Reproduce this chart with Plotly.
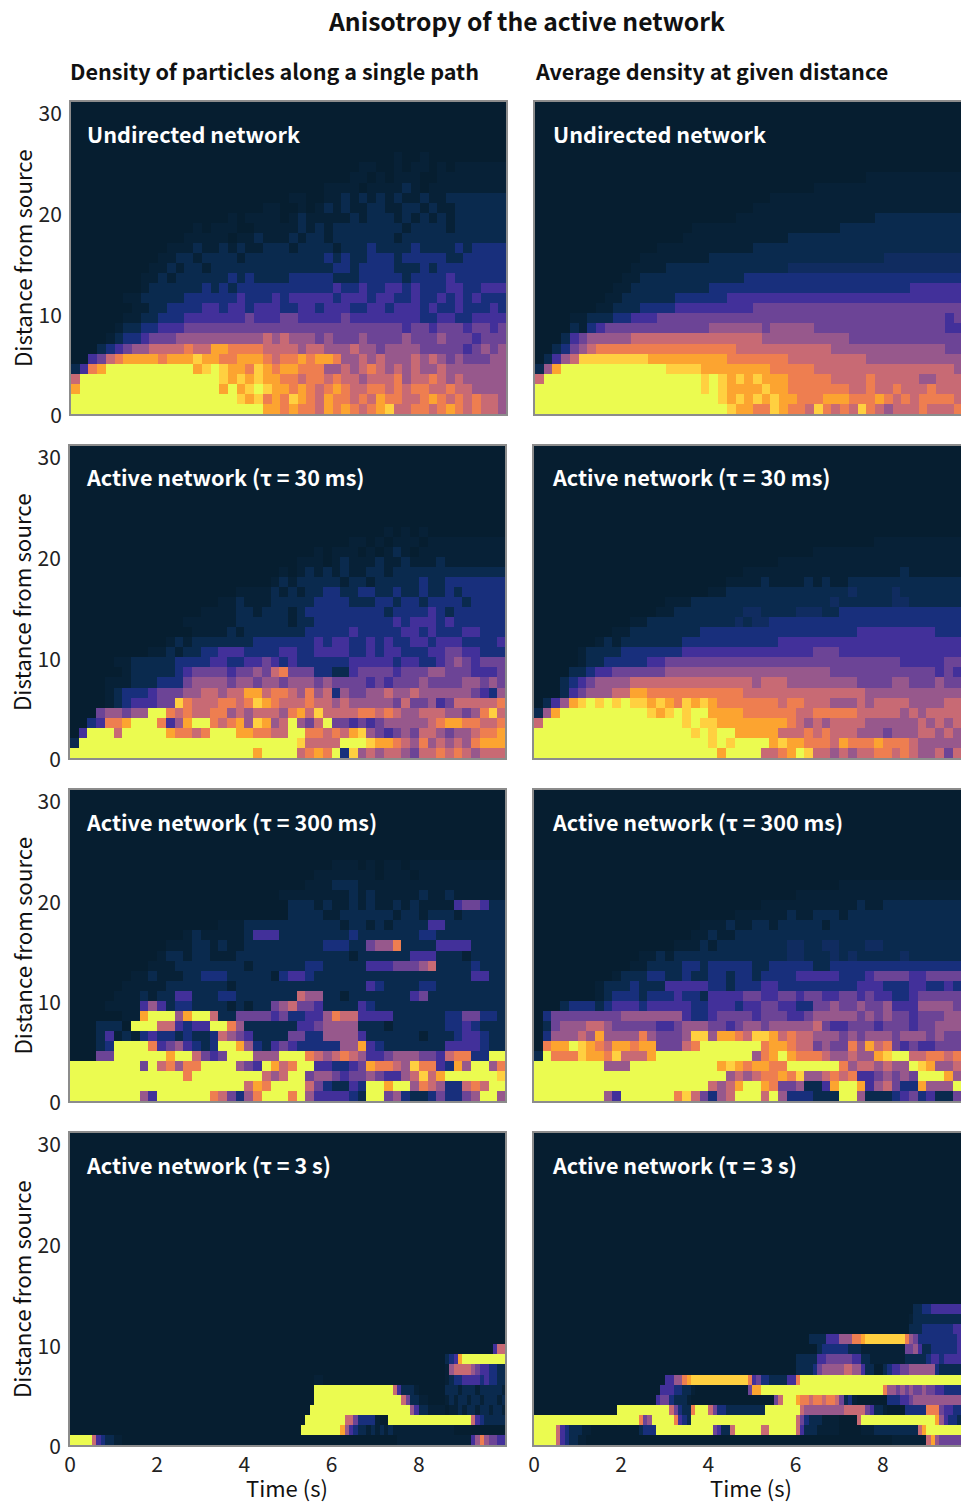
import plotly.graph_objects as go

# Density levels, one string per distance (row 0 = distance 0..1),
# one character per time bin. 0-9 are density levels, a = faint, b = 1.5, g = 8.5.
undirected_path = [
    "999999999999999999999 9 8 8 7 8 7 7 6 8 7 8 7 6 7 8 g 6 6 7 7 6 7 8 7 6 7 6 6 5 6 5 4",
    "999999999999999999 9 g 8 g 7 8 7 g 8 7 6 8 7 7 6 7 6 8 7 7 6 6 7 8 7 6 7 6 7 6 6 5",
    "8 9999999999999999 8 9 8 g 9 g 8 8 7 8 7 6 7 8 7 6 6 7 7 6 7 6 7 7 6 6 7 6 6 5 5",
    "6 9 9 99999999999999 g 8 g 8 g 8 8 7 7 6 7 7 6 7 6 6 5 6 6 6 7 5 6 6 7 6 5 6 5 5",
    "1378 9999999999 8 g 9 g 8 8 7 g 8 7 8 8 7 7 7 5 5 6 5 6 7 6 5 6 5 6 5 5 6 5 5 5 5 5",
    "00346 7 8 8 8 8 7 8 8 8 g 8 8 7 7 8 8 8 7 6 7 7 8 7 8 8 7 5 5 6 5 6 5 5 5 6 5 6 5 4 5 4 4 4 5",
    "0001234 5 5 6 6 6 6 7 6 6 8 8 7 7 7 7 6 6 6 6 5 6 6 5 5 5 6 5 5 4 5 5 5 5 4 4 4 4 4 3 4 5 4 5",
    "0000a1 2 2 3 4 4 4 5 5 5 5 5 5 5 5 5 5 6 5 6 5 5 5 4 5 4 4 4 5 4 4 4 4 5 4 4 4 5 4 4 4 3 4 4",
    "00000a 1 1 2 2 3 3 3 4 4 4 4 4 4 4 4 4 4 4 4 4 4 4 4 4 4 4 4 4 4 4 4 4 3 4 4 3 4 4 4 3 4 4 3 4",
    "000000a a 1 1 2 2 2 3 3 3 3 3 3 3 4 3 3 3 4 4 3 3 3 3 3 4 3 3 3 3 3 3 3 3 2 2 3 3 2 2 3 3",
    "0000000 a a 1 1 2 2 2 2 3 3 2 3 3 2 3 3 3 2 2 3 3 2 3 3 3 2 2 3 3 2 3 3 3 2 3 2 2 3 2 2 2 3 2",
    "000000 a a 1 1 1 1 1 2 2 2 2 2 2 3 2 2 2 3 2 3 3 3 3 3 2 3 3 3 2 3 3 2 2 3 2 2 3 2 3 2 3 2",
    "00000000 a 1 1 1 1 1 1 2 1 2 1 2 2 2 2 2 2 2 2 2 2 2 3 2 2 3 2 2 3 3 2 3 2 2 2 3 3 2 2 3 3",
    "00000000 a a 1 a 1 1 1 1 1 1 2 1 2 1 1 1 1 2 2 2 2 2 1 1 1 2 2 2 2 2 1 2 2 2 2 3 2 2 2 2",
    "000000000 a a 1 a 1 1 a 1 1 1 1 1 1 1 1 1 1 1 1 1 1 2 2 1 2 2 2 2 1 1 1 2 1 2 2 2 2",
    "0000000000 a a 1 1 a 1 1 1 1 a 1 1 1 1 1 1 1 1 1 2 1 2 1 1 2 2 2 1 2 2 2 2 2 1 1 2 2 2",
    "00000000000 a a a 1 a a 1 a 1 a a 1 1 1 a 1 1 1 1 a 1 1 1 2 1 1 1 1 2 1 1 1 1 2 1 2",
    "0000000000000 a a a a a 0 a a 1 a a a 1 a 1 1 a 1 1 1 1 1 1 1 a 1 1 1 1 1 1 1 1 1",
    "00000000000000 a 0 a a a 0 0 a a a a a 1 a 1 a 1 1 1 1 1 1 1 1 a 1 1 1 1 a 1 1",
    "000000000000000000 a 0 a a a a 0 a 1 a a a a a 1 a 1 1 1 a 1 a 1 a 1 a 1 1",
    "0000000000000000000000 a a 0 0 a 0 a 1 a 1 a a 1 1 a a 1 1 a 1 a a 1",
    "0000000000000000000000000 a a 0 0 a a 1 a 1 a 1 a 1 a a 1 a a 1",
    "00000000000000000000000000000 a a a a 0 a a a a 1 a 0 a a a",
    "00000000000000000000000000000000 a a 0 a 0 a a a 0 0 a a",
    "000000000000000000000000000000000 a a 0 0 a 0 a a 0 a 0 a",
    "0000000000000000000000000000000000000 a 0 0 a 0 0",
]

undirected_mean = [
    "999999999999999999999 9 g 8 8 7 7 g 8 7 7 6 g 7 6 7 6 g 7 6 5 6 6 6 7 6 6 6 7 7 7 6 5 5",
    "99999999999999999999 9 g 8 g 8 g 8 g 8 8 7 7 7 8 8 8 7 7 7 8 7 6 7 6 7 7 7 7 6 6 6 6 6",
    "999999999999999999 9 g 9 g 8 8 8 8 g 8 8 7 7 7 7 7 7 7 6 6 7 6 6 7 6 6 6 7 6 6 6 5 6 5",
    "6 99999999999999999 9 g 9 g 8 g 8 g 8 8 8 7 7 7 7 7 6 6 6 6 7 6 6 6 6 6 5 5 6 6 6 6 5 5",
    "158 999999999999 g g g g 8 8 8 8 8 8 8 8 7 7 7 7 7 6 6 6 6 6 6 6 6 6 6 6 6 6 6 6 6 5 5 5",
    "01356 g g g g g g g g 8 8 8 8 8 8 8 8 8 7 7 7 7 7 7 7 6 6 6 6 6 6 6 6 6 5 5 5 5 5 5 5 5 5 5 5 5",
    "00124 5 6 7 7 7 7 7 7 7 7 7 7 7 7 7 7 7 7 6 6 6 6 6 6 6 6 6 6 6 5 5 5 5 5 5 5 5 5 5 5 5 5 4 4 4 4",
    "00013 4 5 5 5 5 5 6 6 6 6 6 6 6 6 6 6 6 6 6 6 6 5 5 5 5 5 5 5 5 5 5 4 4 4 4 4 4 4 4 4 4 4 4",
    "00001 a 2 3 4 4 4 4 4 4 4 4 4 4 4 4 5 5 5 5 5 5 4 5 5 5 5 5 4 4 4 4 4 4 4 4 4 4 4 4 4 4 4 3",
    "0000a a 1 1 1 2 2 3 3 3 4 4 4 4 4 4 4 4 4 4 4 4 4 4 4 4 4 4 4 4 4 4 4 4 4 4 4 4 4 4 4 4 4 3 4",
    "0000000 a a 1 1 1 2 2 2 2 3 3 3 3 3 3 3 3 3 4 4 4 4 4 4 4 4 4 4 4 4 4 4 4 4 4 4 4 4 4 4",
    "00000000 a a 1 1 1 1 1 1 2 2 2 2 2 2 3 3 3 3 3 3 3 3 3 3 3 3 3 3 3 3 3 3 3 3 3 3 3 3",
    "000000000 a a 1 1 1 1 1 1 1 1 1 2 2 2 2 2 2 2 2 2 2 2 2 2 2 2 2 2 2 2 2 2 2 2 3 3 3 3",
    "0000000000 a a 1 1 1 1 1 1 1 1 1 1 1 1 2 2 2 2 2 2 2 2 2 2 2 2 2 2 2 2 2 2 2 2 2 2",
    "00000000000 a a a a 1 1 1 1 1 1 1 1 1 1 1 1 1 1 b b b b b b b b b b b b b b b b b b",
    "000000000000 a a a a a a a a 1 1 1 1 1 1 1 1 1 1 1 1 1 1 1 1 1 1 1 1 b b b b b",
    "00000000000000 a a a a a a a a a a a 1 1 1 1 1 1 1 1 1 1 1 1 1 1 1 1 1 1",
    "00000000000000000 a a a a a a a a a a a a 1 1 1 1 1 1 1 1 1 1 1 1 1",
    "000000000000000000 a a a a a a a a a a a a a a a a a 1 1 1 1 1 1",
    "00000000000000000000000 a a a a a a a a a a a a a a a a 1",
    "0000000000000000000000000 a a a a a a a a a a a a a a",
    "000000000000000000000000000 a a a a a a a a a a a a a",
    "00000000000000000000000000000000 a a a a a a a a",
    "00000000000000000000000000000000000000 a a a a",
]

tau30_path = [
    "999999999999999999999 8 9999 6 7 8 7 9 2 g 5 6 5 6 6 5 4 6 6 7 6 7 6 5 6 6 6 7 5 4 4 4 3 6",
    "1 9999999999999999999999999 g 6 6 6 6 9 9 9 g 8 8 7 6 5 7 5 6 5 6 5 7 8 8 8 7 6 6 6 6",
    "03 999 6 99999 8 7 7 6 7 999 8 8 7 7 6 6 9 9 7 7 6 7 6 8 g 5 4 3 4 5 4 6 6 5 4 5 5 6 7 7 8 g 8 7 8 7 8 7",
    "0023 7 7 8 999 7 3 5 8 99 7 6 7 8 5 g 8 5 6 9 5 4 6 9 4 4 3 4 3 4 5 5 5 5 5 6 7 8 8 7 7 6 6 7 7 8",
    "0004 5 5 4 5 5 9 9 7 6 7 6 6 7 7 5 6 5 6 6 6 5 7 8 6 g 6 6 6 6 7 7 6 7 6 5 5 6 6 6 5 5 4 5 7 g 6",
    "0000 a 1 2 3 3 3 4 4 g 7 6 6 6 7 7 6 7 g 8 7 6 6 6 7 6 6 5 6 5 5 5 5 5 4 6 4 4 5 3 4 6 6 6 6 6 7",
    "0000 a 1 2 2 2 3 4 4 4 5 5 6 6 5 6 6 8 8 6 7 7 6 5 7 5 6 2 5 4 4 5 5 6 5 5 6 5 5 5 5 5 5 4 3 2 5 5 6",
    "0000 a a a 1 1 1 2 2 2 4 5 5 5 5 4 5 5 4 5 5 4 5 5 5 4 5 4 4 4 4 3 4 3 4 4 4 5 4 4 4 4 5 5 4 5 4",
    "000000 a 1 1 1 1 1 2 3 4 4 4 4 3 4 4 5 4 6 7 4 4 4 2 2 1 1 3 4 4 4 4 3 4 4 4 5 5 4 4 4 3 3 3 4",
    "00000 a a 1 1 1 1 1 2 2 2 2 3 3 2 2 3 3 4 3 2 3 2 2 2 2 2 2 3 3 3 3 3 2 3 3 2 2 3 4 5 4 3 4 4 4",
    "000000000 a a 1 a 1 1 2 2 3 3 3 2 2 2 2 3 3 2 2 3 3 3 3 2 2 3 2 3 3 2 2 2 3 3 4 4 3 3 2 2 2",
    "00000000000 a 1 a 1 1 1 1 1 1 1 2 2 2 2 2 2 2 3 2 3 3 2 2 3 2 3 2 2 3 3 2 3 3 3 2 2 2 2 3 3",
    "00000000000000 a a a a 1 a 1 1 1 1 1 1 1 2 2 2 2 2 3 2 2 2 2 2 3 3 2 3 2 2 2 3 3 2 2 2 2 2",
    "0000000000000 a a a a a a 1 1 1 1 1 1 a 1 1 2 2 2 2 2 2 2 2 2 3 2 3 3 3 2 3 2 2 2 2 2 2 1",
    "000000000000000 a a a a 1 1 a 1 1 1 a 1 2 2 2 2 2 2 2 2 2 1 2 2 2 2 3 2 1 2 2 2 2 2",
    "00000000000000000 a a 1 a a a 1 1 1 1 1 2 2 2 2 1 1 1 2 2 1 2 2 1 2 2 2 2 1 2 2 2 2",
    "0000000000000000000 a a a a 1 a 1 a 1 1 2 2 1 1 2 2 1 1 2 1 1 2 1 1 2 1 2 2 2 2",
    "00000000000000000000000 a 1 a 1 1 1 1 1 a 1 1 a 1 1 1 1 1 2 1 1 2",
    "000000000000000000000000 a 0 a 1 a 1 a 1 a a 1 1 a 1 1 1 1 1",
    "00000000000000000000000000 a a a 0 a 1 a a a 1 a a 1 a a a 1 a",
    "0000000000000000000000000000 a 0 a a a 0 a 0 a 1 a 0 a a a",
    "00000000000000000000000000000000 a a 0 a 0 a a a 0 a",
    "000000000000000000000000000000000000 a 0 a 0 a 0",
]

tau30_mean = [
    "999999999999999999999 8 9999 6 6 7 8 9 g 6 6 5 6 5 6 6 7 7 6 7 6 5 5 6 4 6 7 8 5 5 5 6 6 4 4 3 2",
    "99999999999999999999 g 9 g 9 9 9 9 8 g 8 8 7 7 7 6 8 7 7 7 8 7 7 7 6 5 5 5 5 5 7 5 6 6 5 6 7 6",
    "999999999999999999 g 9 g 9 9 8 8 8 8 8 6 6 6 7 6 7 6 6 6 5 5 5 4 5 5 5 6 6 5 6 5 6 6 7 6 6 6",
    "6 9999999999999999 g 9 g g 8 8 8 8 8 8 8 8 7 6 5 6 5 6 6 6 6 5 5 5 5 5 5 6 5 6 5 6 5 5 5 5",
    "158 9999999999 g 8 g 9 g 9 9 8 8 8 8 7 7 7 7 7 7 6 6 7 7 7 7 7 6 6 6 6 6 5 6 5 6 6 6 6 6 6 5 5 6 6 6 5",
    "0135 8 g 9 g 9 g 9 g g 8 g 8 7 g 8 g 8 7 7 7 7 7 7 7 6 7 7 6 6 6 5 5 5 6 5 6 6 6 6 5 5 5 5 6 6 5 5 5 5",
    "00013 4 5 5 5 6 6 8 8 7 7 7 7 7 7 7 7 7 7 7 6 6 6 6 6 6 6 6 6 6 6 6 6 6 5 5 5 5 5 5 5 5 5 5 5 5 5",
    "00012 3 4 5 5 5 5 6 6 6 6 6 6 6 6 6 6 6 6 6 6 5 6 6 6 5 5 5 5 5 5 5 5 4 4 4 4 5 5 4 4 4 5 4",
    "00001 1 2 3 3 4 4 4 4 4 4 5 5 5 5 5 5 5 5 5 5 5 5 5 5 5 5 5 5 5 4 4 4 4 4 4 4 4 4 4 4 4 3 4 3",
    "00000 a 1 1 2 2 2 2 2 3 3 4 4 4 4 4 4 4 4 4 4 4 4 4 4 4 4 4 4 4 4 4 4 4 4 4 4 4 3 3 3 3 3 4",
    "00000 a 1 1 1 1 2 2 2 2 2 2 2 3 3 3 3 3 3 3 3 3 3 3 3 3 3 3 4 4 4 3 3 3 3 3 3 3 3 3 3 3 3 3",
    "0000000 a 1 a 1 1 1 1 1 1 1 2 2 2 2 2 2 2 2 2 2 2 3 3 3 3 3 3 3 3 3 3 3 3 3 3 3 3 3 3 3",
    "000000000 a a 1 1 1 1 1 1 1 1 2 2 2 2 2 2 2 2 2 2 2 2 2 2 2 2 2 2 3 3 3 3 3 3 3 3 3 2 2 2",
    "00000000000 a a 1 1 1 1 1 1 1 1 1 1 b 1 b b 2 2 2 2 2 2 2 2 2 2 2 2 2 2 2 2 2 2 2 2 2",
    "00000000000000 a a 1 1 1 1 1 1 1 1 b b 1 1 1 1 b b b 1 1 2 2 2 2 2 2 2 2 2 2 2 2",
    "000000000000000 a a a 1 1 1 1 1 1 1 1 1 1 1 1 1 1 1 1 b 1 1 1 1 1 1 b b 1 1 1",
    "00000000000000000000 a a 1 1 1 1 1 1 1 1 1 1 1 1 1 1 b 1 1 1 1 b 1 1",
    "0000000000000000000000 a a a a 1 a a a a 1 a 1 a a 1 1 1 1 1 1 1 1 1 1",
    "000000000000000000000000 a a a a a a a a a a a a a a a a a a 1 a",
    "0000000000000000000000000000 a a a a a a a a a a a a a a",
    "00000000000000000000000000000000 a a a a a a a a a",
    "000000000000000000000000000000000000000 a a a a",
]

tau300_path = [
    "99999999 53 999999 764257 999 795 333321 99 45 2 11 2 4 22 4 5 99 5",
    "99999999999999999999 6 8 7 9999 6 4 2 1 1 3 2 99 8 99 5 7 6 5 2 2 6 7 6 99",
    "9999999999999 7 99999999 6 5 6 99 4 5 5 4 3 4 4 5 4 3 3 5 6 g 6 8 999999 g",
    "99999999 4 9 6 7 5 7 7 9999 5 4 3 9 8 6 7 99 3 3 2 2 3 4 8 7 7 6 5 g 7 7 3 2 8 5 99 5 7",
    "000 44 999999 8 9 9 6 4 3 4 999 5 5 5 999 7 6 5 6 7 6 5 3 3 4 5 5 5 4 4 3 6 7 7 2 2 9 9 9 7 4 8 8 5 5",
    "000 1 2 9999 7 3 4 5 3 2 1 2 99 8 5 2 1 3 4 3 2 2 2 2 2 5 5 8 3 2 1 1 1 1 1 1 1 3 3 3 3 2 1 1",
    "000 1 3 a 1 a 2 3 2 2 1 2 1 1 2 6 5 4 3 1 1 1 1 4 4 2 2 5 5 5 5 3 1 1 1 1 1 1 a 1 1 1 2 3 3 2 1 1 2",
    "000 1 1 1 0 9 9 9 6 6 3 2 3 3 9 9 7 5 1 1 1 1 1 1 3 3 4 5 5 5 5 1 1 1 a 1 1 1 1 1 1 2 2 3 2 1 1 1",
    "000000 a a 8 9 9 9 5 8 9 9 6 1 1 4 4 4 4 3 4 2 2 3 3 5 7 6 6 3 3 3 3 1 1 1 1 1 1 2 2 4 4 2 2 1",
    "0000 a a a a 3 5 3 1 2 2 1 1 1 1 a 1 a 1 1 4 5 6 4 4 3 1 1 1 1 3 2 1 1 1 1 1 1 1 1 1 1 1 1 1 1 1 1 4",
    "00000 a a a 1 a 1 1 3 3 1 1 1 2 2 1 1 1 1 1 1 1 6 5 5 1 1 a 1 1 1 1 1 1 1 3 4 1 1 1 1 1 1 1 1 1 3 1",
    "000000 a a a a a 1 1 1 1 1 1 1 a 1 1 1 1 1 1 1 1 1 1 1 1 1 1 1 3 2 1 1 1 1 2 2 1 1 1 1 1 1 1 1 1",
    "0000000 a a 1 a a a 1 1 2 2 2 1 1 1 1 1 a 2 3 3 2 1 1 1 1 1 1 1 1 1 1 1 1 1 1 1 1 1 1 3 3 1 1 1",
    "000000000 a a a 1 1 1 1 1 1 1 1 a 1 1 1 1 1 1 2 2 1 1 1 1 1 3 3 3 4 4 4 5 6 1 1 1 1 2 1",
    "0000000000 a 1 1 a 1 1 a a a 1 1 1 1 1 1 1 1 1 1 1 1 1 a 1 1 1 1 1 1 3 3 3 1 1 1 a 1",
    "00000000000 a a a 1 1 a 1 a a 1 1 1 1 1 1 1 1 1 2 2 2 1 1 4 5 5 7 1 1 1 1 3 3 3 3 1 1 1 1 1",
    "0000000000000 a 1 a a a a a 1 3 3 3 1 1 1 1 1 1 1 1 2 1 1 1 1 1 1 1 2 2 1 1 1 1 1",
    "00000000000000000 a a a 1 1 1 1 1 1 1 1 1 1 1 a 1 1 a 1 a 1 1 1 1 3 3 1 1 1 1",
    "0000000000000000000000000 1 1 1 1 a a 1 1 1 1 1 1 a 1 1 a 1 1 1 a 1 1 1 1",
    "0000000000000000000000000 1 1 1 a 1 a a 1 a 1 a a 1 a 1 a a a a 3 4 4 3 1 1",
    "000000000000000000000000 a a a a a a a a 1 a 1 a a a a a 1 a a 1 a a a a a",
    "000000000000000000000000000 a a a 1 1 1 a a a a a a a a a a a a a",
    "0000000000000000000000000000 a a a a a a a 0 a a a 0 a a",
    "000000000000000000000000000000 a a a 0 a 0 a a 0 a",
]

tau300_mean = [
    "99999999 53 999999 7 g 6 4 2 5 6 999 6 9 5 2 2 2 1 1 1 99 5 1 1 1 2 3 4 2 3 1 1 4 99",
    "99999999999999999999 6 5 6 8 99 8 7 4 4 5 1 1 3 8 99 8 3 5 6 4 2 2 8 5 5 5 99",
    "999999999999999999999 9 5 6 5 6 7 7 8 7 g 5 5 6 7 6 7 3 3 4 5 4 5 4 999 8 5 5",
    "99999999 555 9999999999 8 g 8 7 8 8 7 7 999999 7 5 6 6 5 6 5 5 9 g 8 5 5 6 5",
    "1 9 7 7 7 g 8 8 7 g 6 6 6 8 9999999999 9 5 7 8 9 8 7 7 7 6 5 5 6 5 5 8 g 99 6 6 7 7 6 7 6",
    "0 7 8 8 9 g 8 7 6 8 8 7 8 8 4 4 4 6 7 999 9999 7 8 8 7 6 6 4 5 4 4 7 5 8 6 7 4 3 4 3 3 4 4 4 3",
    "02 5 5 5 6 5 8 5 5 5 5 7 5 4 4 4 5 g g 5 8 8 7 6 g g 8 6 7 6 6 5 5 5 4 5 4 5 5 5 4 5 5 5 4 5 4 4 5",
    "01 4 5 5 5 6 6 5 4 4 4 4 4 3 3 4 5 5 5 4 4 3 4 5 5 4 5 5 5 5 5 6 4 3 3 4 4 4 3 4 4 4 3 4 4 5 5 5",
    "02 4 4 4 4 4 4 4 4 5 5 5 5 5 5 5 3 2 2 3 4 4 4 4 3 4 4 4 3 3 4 5 5 5 5 5 4 5 4 5 4 4 3 4 4 4 5 5",
    "000 1 2 2 2 1 2 3 3 3 2 3 3 3 3 3 2 2 3 3 3 2 3 3 4 4 3 3 2 2 4 4 5 4 4 5 4 4 5 3 3 3 5 5 5 5 4 5",
    "0000000 a 1 2 2 2 1 2 2 2 3 2 2 1 3 3 3 3 4 4 3 3 4 4 3 4 4 3 3 4 4 3 4 3 3 2 2 3 4 4 4 4 4 4",
    "0000000 a 1 1 1 2 1 1 1 3 3 3 3 3 2 2 1 2 2 2 3 3 2 2 2 2 2 2 2 2 2 3 3 3 2 2 2 3 3 2 2 3 2",
    "000000000 a 1 1 1 2 2 1 1 2 1 1 2 2 1 2 2 1 2 2 2 2 3 3 3 3 3 2 2 2 3 4 4 4 4 3 3 4 4",
    "00000000000 a a 1 1 1 1 2 2 1 2 2 2 2 2 1 1 2 2 2 2 2 1 1 2 2 2 2 2 2 2 2 2 2 2 2 2",
    "000000000000 a a 1 a 1 1 1 1 1 1 1 1 1 1 1 1 1 b b 1 1 1 b 1 b 1 1 1 1 1 b 1 1",
    "0000000000000000 a a a 1 a 1 1 1 1 1 1 1 1 b b 1 1 b b 1 1 1 b b 1 1 1 1 1 1 1",
    "000000000000000000 a a 1 a a 1 1 1 1 1 1 1 1 1 1 1 1 1 1 1 1 1 1 1 1 1 1 1 1",
    "0000000000000000000 a a a 1 a a 1 1 a 1 1 1 1 1 a 1 1 1 1 1 1 1 1 1 1 1 1",
    "00000000000000000000000 a a a a a a 1 a a 1 1 1 a 1 1 1 1 1 1 1 1 1",
    "00000000000000000000000000 a a a a a a a a a a a 1 a a 1 1 1",
    "000000000000000000000000000000 a a a a a a a a a a a a a",
    "00000000000000000000000000000000000 a a a a a a a a",
]

# 100 time bins per row in the last two panels, whose edges are sharp
tau3s_path = [
    "9" * 5 + "6 3 2 1 1 a a" + "0" * 63 + "a" * 17 + "3 5 7 5 4 4 3 3",
    "0" * 53 + "9" * 9 + "8 5 3 2 1 1 a 1 a 1 a 1 a a" + "a" * 12 + "0",
    "0" * 54 + "9" * 9 + "6 6 4 2 2 2 2 a 0 0" + "9" * 19 + "6 3 2 1 1 1 1 1",
    "0" * 55 + "9" * 23 + "5 3 1 1 a a a a 0 a a 1 a 1 1 a 1 1 a 1 1 a",
    "0" * 56 + "9" * 20 + "6 4 1 1 a a 0 0 0 0 a 1 a 1 1 a 1 1 a 1 1 1 a 1",
    "0" * 56 + "9" * 18 + "6 3 1 1 1 a 0 0 0 0 0 0 1 1 1 a 1 1 1 a 1 1 1 1 1 a 1",
    "0" * 56 + "a a" + "0" * 28 + "a 1 2 2 3 3 3 3 2 3 2 2 1 1",
    "0" * 86 + "a 5 6 6 6 6 5 4 3 3 2 2 1 1",
    "0" * 86 + "1 2 3 8" + "9" * 10,
    "0" * 97 + "3 6 6",
]

tau3s_mean = [
    "9" * 5 + "6 3 2 1 1 a a" + "0" * 70 + "a" * 8 + "6 8 5 4 4 4 4 4",
    "9" * 5 + "6 3 2 1 1 1 a a" + "0" * 11 + "1 2 2 2" + "9" * 13 + "4 3 1 1 6" + "9" * 6 + "6 6" + "9" * 6
    + "6 3 1 1 1 a a a a a" + "0" * 5 + "a a a 1 1 1 1 1 1 1 1 1 1" + "6 8" + "9" * 10,
    "9" * 24 + "7 4 5" + "9" * 5 + "7 3 2 1" + "9" * 24 + "6 4 2 1 1 1 a a a a 0 0 0 0 6" + "9" * 17 + "8 5 3 2 2 1 1 1",
    "0" * 19 + "9" * 12 + "6 4 2 1 1 7" + "9" * 3 + "6 4 2 2 1 1 1 1 1 1 1 1 1" + "9" * 8 + "6" + "5" * 9
    + "6 6 6 6 6 4 3 1 1 a 0 0 0 0 2 2 2 2 2 7 7 7 4 3 3 2 2 2",
    "0" * 28 + "3 4 4 2 1 1 1 a" + "0" * 19 + "4 6" + "9" * 3 + "8 7 7 6 7 7 6 7 7 6 4 1 2 a" + "0" * 7
    + "2 2 2 3 3 4 5 5 5 5 5 5 5",
    "0" * 29 + "3 3 3 2 2 1 1 a" + "0" * 12 + "4 8 8" + "9" * 28 + "7 5 5 4 5 4 5 4 4 5 4 4 3 3 2 2",
    "0" * 30 + "3 3 5 5 7 8" + "g" * 13 + "7 3 4 2 2 1 1 1 1 3 3 7" + "9" * 39,
    "0" * 60 + "1 1 1 1 2 4 5 5 5 5 5 6 6 5 5 3 1 1 0 0 1 2 3 3 4 4 5 5 5 5 5 5 2 1 1 1 1 1 1 1",
    "0" * 60 + "1" * 5 + "3 3 4 4 4 4 4 4 3 3 1 1" + "a" * 8 + "1 1 1 1 1 2 3 3 2 3 3 3 3 3 3",
    "0" * 65 + "1 2 2 2 2 2 2 1 1 1" + "a" * 10 + "4 4 5 3 1 1 2 2 2 2 2 2 3 3 3",
    "0" * 63 + "1 1 1 1 3 3 3 5 5 5 7 7 8 g g g g g g g g g 7 5 4 2 2 2 2 2 2 2 2 2 3 3 3",
    "0" * 86 + "1 1 1 2 2 2 2 2 2 2 3 3 3 3",
    "0" * 86 + "a 1 1 1 1 1 1 1 1 1 1 1 1 1",
    "0" * 87 + "1 1 2 2 3 3 3 3 3 3 3 3 3",
]

panel_labels = ["Undirected network", "Active network (τ = 30 ms)",
                "Active network (τ = 300 ms)", "Active network (τ = 3 s)"]
path_panels = [undirected_path, tau30_path, tau300_path, tau3s_path]
mean_panels = [undirected_mean, tau30_mean, tau300_mean, tau3s_mean]
x_ticks = [0, 2, 4, 6, 8]
y_ticks = [0, 10, 20, 30]
title = "Anisotropy of the active network"
col_titles = ["Density of particles along a single path", "Average density at given distance"]
x_title = "Time (s)"
y_title = "Distance from source"
n_rows = 31

W, H = 961, 1503
FONT = "Noto Sans CJK SC"
GREY = "#8c8c8c"
colorscale = [
    [0 / 9, "#061e30"], [1 / 9, "#0a2a4e"], [2 / 9, "#182f7c"], [3 / 9, "#42309a"],
    [4 / 9, "#6c4496"], [5 / 9, "#97588c"], [6 / 9, "#c86a74"], [7 / 9, "#ee7e50"],
    [8 / 9, "#fca430"], [8.5 / 9, "#ffd040"], [9 / 9, "#ebfb50"],
]
LEVEL = {"a": 0.22, "b": 1.4, "g": 8.5}


def decode(rows):
    cleaned = [r.replace(" ", "") for r in rows]
    width = 100 if max(len(r) for r in cleaned) > 70 else 50
    out = []
    for r in cleaned:
        r = (r + r[-1] * width)[:width]
        out.append([LEVEL[c] if c in LEVEL else float(c) for c in r])
    while len(out) < n_rows:
        out.append([0.0] * width)
    return out


col_left = [[71, 70, 70, 70], [535, 534, 534, 534]]
col_right = [[506, 505, 505, 505], [961, 961, 961, 961]]
row_top = [102, 446, 790, 1133]
row_bottom = [414, 758, 1101, 1445]
x_scale = 43.6

fig = go.Figure()
annotations = []
layout = {}


def pixel_note(px, py, text, size, bold=True, xanchor="left", color="#111111", angle=0):
    annotations.append(dict(
        xref="paper", yref="paper", x=px / W, y=1 - py / H, text=f"<b>{text}</b>" if bold else text,
        showarrow=False, xanchor=xanchor, yanchor="middle", textangle=angle,
        font=dict(family=FONT, size=size, color=color),
    ))


for c, panels in enumerate([path_panels, mean_panels]):
    for r, rows in enumerate(panels):
        idx = c * 4 + r + 1
        sx = "" if idx == 1 else str(idx)
        z = decode(rows)
        dx = 10 / len(z[0])
        fig.add_trace(go.Heatmap(
            z=z, x0=dx / 2, dx=dx, y0=0.5, dy=1, zmin=0, zmax=9, colorscale=colorscale,
            showscale=False, xaxis="x" + sx, yaxis="y" + sx, hoverinfo="skip",
        ))
        left, right = col_left[c][r], col_right[c][r]
        layout["xaxis" + sx] = dict(
            domain=[left / W, right / W], range=[0, (right - left) / x_scale], anchor="y" + sx,
            tickvals=x_ticks, showticklabels=r == 3, ticks="", showgrid=False, zeroline=False,
            showline=True, linecolor=GREY, linewidth=2, mirror=True, automargin=False,
            tickfont=dict(family=FONT, size=21, color="#222222"),
        )
        layout["yaxis" + sx] = dict(
            domain=[1 - row_bottom[r] / H, 1 - row_top[r] / H], range=[0, n_rows], anchor="x" + sx,
            tickvals=y_ticks, showticklabels=c == 0, ticks="outside", ticklen=3,
            tickcolor="rgba(0,0,0,0)", showgrid=False, zeroline=False, ticklabelshift=2,
            showline=True, linecolor=GREY, linewidth=2, mirror=c == 0, automargin=False,
            tickfont=dict(family=FONT, size=21, color="#222222"),
        )
        pixel_note(left + (14 if c == 0 else 16), row_top[r] + 31, panel_labels[r], 21.6, color="white")
        if c == 0:
            pixel_note(22 if r == 0 else 21, (row_top[r] + row_bottom[r]) / 2, y_title, 22.3,
                       bold=False, xanchor="center", angle=-90)

pixel_note(526, 20, title, 24.7, xanchor="center")
pixel_note(68, 70, col_titles[0], 21.6)
pixel_note(533, 70, col_titles[1], 21.6)
pixel_note(287, 1487, x_title, 22, bold=False, xanchor="center")
pixel_note(751, 1487, x_title, 22, bold=False, xanchor="center")

fig.update_layout(
    width=W, height=H, autosize=False, margin=dict(l=0, r=0, t=0, b=0, pad=0),
    paper_bgcolor="white", plot_bgcolor="#061e30", showlegend=False,
    annotations=annotations, font=dict(family=FONT), **layout,
)
fig.write_html(
    "out.html",
    config={"displayModeBar": False},
    post_script="document.body.style.margin='0';document.documentElement.style.overflow='hidden';",
)
